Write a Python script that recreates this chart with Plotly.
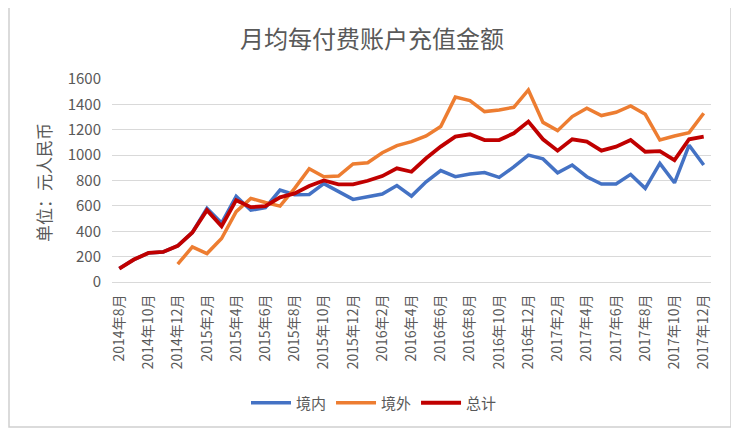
import plotly.graph_objects as go

months = [
    "2014年8月", "2014年9月", "2014年10月", "2014年11月", "2014年12月",
    "2015年1月", "2015年2月", "2015年3月", "2015年4月", "2015年5月", "2015年6月",
    "2015年7月", "2015年8月", "2015年9月", "2015年10月", "2015年11月", "2015年12月",
    "2016年1月", "2016年2月", "2016年3月", "2016年4月", "2016年5月", "2016年6月",
    "2016年7月", "2016年8月", "2016年9月", "2016年10月", "2016年11月", "2016年12月",
    "2017年1月", "2017年2月", "2017年3月", "2017年4月", "2017年5月", "2017年6月",
    "2017年7月", "2017年8月", "2017年9月", "2017年10月", "2017年11月", "2017年12月",
]

domestic = [106, 177, 229, 237, 285, 390, 580, 465, 675, 566, 587, 725, 688, 690,
            775, 711, 651, 672, 693, 760, 677, 790, 878, 830, 851, 862, 825, 907,
            1000, 970, 861, 922, 830, 772, 772, 848, 738, 935, 782, 1078, 922]

overseas = [None, None, None, None, 140, 277, 224, 343, 555, 659, 627, 598, 738, 893,
            830, 835, 930, 940, 1019, 1075, 1106, 1151, 1225, 1457, 1430, 1343, 1356,
            1377, 1514, 1258, 1193, 1304, 1370, 1312, 1338, 1388, 1322, 1119, 1151,
            1177, 1330]

total = [106, 177, 229, 237, 285, 390, 566, 440, 645, 590, 598, 667, 698, 756,
         800, 769, 769, 798, 835, 896, 869, 975, 1067, 1146, 1164, 1119, 1119, 1172,
         1264, 1125, 1035, 1125, 1106, 1035, 1067, 1119, 1027, 1032, 961, 1125, 1146]

tick_labels = months[::2]
y_ticks = [0, 200, 400, 600, 800, 1000, 1200, 1400, 1600]

FONT = "Noto Sans CJK SC, Noto Sans, sans-serif"
TXT = "#595959"

fig = go.Figure()
fig.add_trace(go.Scatter(x=months, y=domestic, name="境内", mode="lines",
                         line=dict(color="#4472C4", width=3.5)))
fig.add_trace(go.Scatter(x=months, y=overseas, name="境外", mode="lines",
                         line=dict(color="#ED7D31", width=3.5)))
fig.add_trace(go.Scatter(x=months, y=total, name="总计", mode="lines",
                         line=dict(color="#C00000", width=3.8)))

# page body adds an 8px offset; work in reference (window) coordinates
OFF = 8
WIN_W, WIN_H = 739, 438
W, H = WIN_W - OFF, WIN_H - OFF
PL, PR, PT, PB = 112, 711, 79, 282          # plot area in window coords
L, T = PL - OFF, PT - OFF
R = (OFF + W) - PR
B = (OFF + H) - PB
pw, ph = PR - PL, PB - PT

def px(x):
    return (x - PL) / pw

def py(y):
    return (PB - y) / ph

def cx(x):
    return (x - OFF) / W

def cy(y):
    return 1 - (y - OFF) / H

fig.update_layout(
    width=W, height=H,
    margin=dict(l=L, r=R, t=T, b=B, autoexpand=False),
    paper_bgcolor="white", plot_bgcolor="white",
    font=dict(family=FONT, color=TXT, size=14),
    title=dict(text="月均每付费账户充值金额", x=cx(372), xref="container",
               y=cy(40), yref="container", xanchor="center", yanchor="middle",
               font=dict(size=24, color=TXT, family=FONT)),
    showlegend=True,
    legend=dict(orientation="h", xref="container", yref="container",
                x=cx(374), y=cy(403), xanchor="center", yanchor="middle",
                font=dict(size=15, color=TXT), itemwidth=40, traceorder="normal"),
    xaxis=dict(type="category", categoryorder="array", categoryarray=months,
               tickmode="array", tickvals=tick_labels, ticktext=tick_labels,
               tickangle=-90, tickfont=dict(size=14, color=TXT),
               showgrid=False, showline=True, linecolor="#D9D9D9", linewidth=1,
               ticks="", ticklabelstandoff=6, range=[-0.5, 40.5], fixedrange=True,
               automargin=False),
    yaxis=dict(range=[0, 1600], tickvals=y_ticks, showgrid=True,
               gridcolor="#D9D9D9", gridwidth=1, zeroline=False, showline=False,
               tickfont=dict(size=15, color=TXT), ticks="", ticklabelstandoff=10,
               automargin=False),
    shapes=[dict(type="rect", xref="paper", yref="paper",
                 x0=px(9), x1=px(731), y0=py(427), y1=py(5),
                 line=dict(color="#D0D0D0", width=1.5), layer="below")],
    annotations=[dict(text="单位：元人民币", textangle=-90, xref="paper", yref="paper",
                      x=px(43), y=py(183), xanchor="center", yanchor="middle",
                      showarrow=False, font=dict(size=17, color=TXT, family=FONT))],
)

fig.write_html("out.html")
